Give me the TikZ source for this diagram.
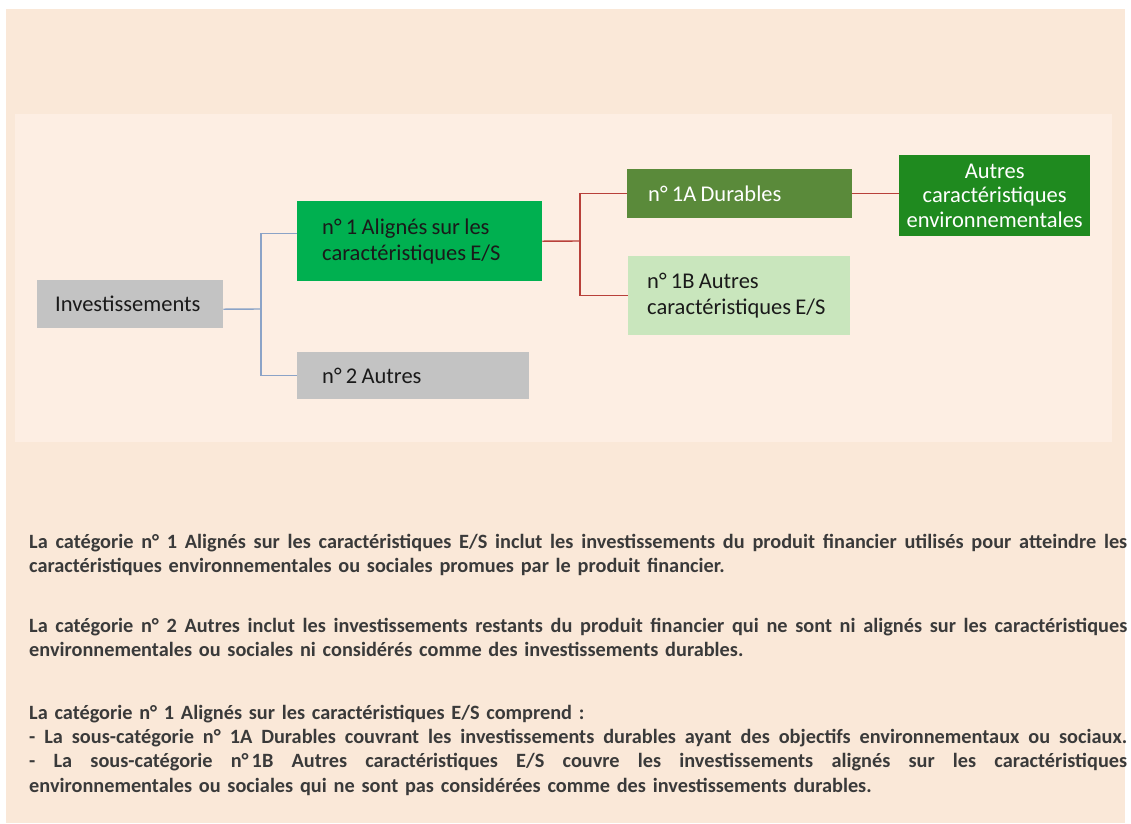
\documentclass[tikz,border=0pt]{standalone}
\usepackage{fontspec}
\setmainfont{Carlito}
% a justified line of the notes: spaces share the free room evenly
\newcommand\fullline[1]{\leavevmode\hbox to 1098pt{\spaceskip=\fontdimen2\font plus 1fil\relax #1}}
% slightly closer word spacing for the box labels
\newcommand\snug{\spaceskip=0.19em plus 0.05em minus 0.02em\relax}
\definecolor{pagebg}{HTML}{FAE8D8}
\definecolor{panelbg}{HTML}{FDEEE3}
\definecolor{boxgray}{HTML}{C3C3C3}
\definecolor{boxgreen}{HTML}{00B050}
\definecolor{boxolive}{HTML}{5A8A3A}
\definecolor{boxforest}{HTML}{1F8A1F}
\definecolor{boxpale}{HTML}{C9E6BD}
\definecolor{linkblue}{HTML}{8BA3C7}
\definecolor{linkred}{HTML}{B8403A}
\definecolor{bodytext}{HTML}{3A3A3A}
\definecolor{boxtext}{HTML}{1A1A1A}

\begin{document}
\begin{tikzpicture}[x=1pt,y=-1pt,
  catbox/.style={rectangle,draw=none,anchor=north west,inner ysep=0pt,
    align=left,text=boxtext,font=\fontsize{22.5}{26}\selectfont},
  bluelink/.style={draw=linkblue,line width=1.4pt},
  redlink/.style={draw=linkred,line width=1.4pt},
  bodyfont/.style={font=\bfseries\fontsize{20.3}{24.3}\selectfont,text=bodytext}]

% page and panels
\fill[white] (0,0) rectangle (1131,823);
\useasboundingbox (0,0) rectangle (1131,823);
\fill[pagebg] (6,9) rectangle (1125,823);
\fill[panelbg] (15,114) rectangle (1112,442);

% category boxes
\node[catbox,fill=boxgray,minimum width=186pt,minimum height=48pt,
  inner xsep=18pt,text width=150pt] (inv) at (37,280) {Investissements};
\node[catbox,fill=boxgreen,minimum width=245pt,minimum height=80pt,
  inner xsep=25pt,text width=195pt] (n1) at (297,201)
  {\snug n° 1 Alignés sur les\\caractéristiques E/S};
\node[catbox,fill=boxgray,minimum width=232pt,minimum height=47pt,
  inner xsep=25pt,text width=182pt] (n2) at (297,352) {\snug n° 2 Autres};
\node[catbox,fill=boxolive,text=white,minimum width=225pt,minimum height=49pt,
  inner xsep=21pt,text width=183pt] (n1a) at (627,169) {\snug n° 1A Durables};
\node[catbox,fill=boxpale,minimum width=222pt,minimum height=79pt,
  inner xsep=19pt,text width=184pt] (n1b) at (628,256)
  {\snug n° 1B Autres\\caractéristiques E/S};
\node[catbox,fill=boxforest,text=white,align=center,
  font=\fontsize{22.5}{24.5}\selectfont,minimum width=191pt,minimum height=81pt,
  inner xsep=4pt,text width=183pt] (env) at (899,155)
  {Autres\\caractéristiques\\environnementales};

% connectors
\coordinate (jb) at (261,309);
\coordinate (jr) at (580,241);
\draw[bluelink] ([yshift=-5pt]inv.east) -- (jb);
\draw[bluelink] ([yshift=8pt]n1.west) -| (jb) |- (n2.west);
\draw[redlink] (n1.east) -- (jr);
\draw[redlink] (n1a.west) -| (jr) |- (n1b.west);
\draw[redlink] (n1a.east) -- (env.west |- n1a.east);

% explanatory text
\node[bodyfont,anchor=base west,inner sep=0pt,text width=1098pt,align=left] (notes) at (29,548)
{\fullline{La catégorie n° 1 Alignés sur les caractéristiques E/S inclut les investissements du produit financier utilisés pour atteindre les}\\
caractéristiques environnementales ou sociales promues par le produit financier.\\[36pt]
\fullline{La catégorie n° 2 Autres inclut les investissements restants du produit financier qui ne sont ni alignés sur les caractéristiques}\\
environnementales ou sociales ni considérés comme des investissements durables.\\[38pt]
La catégorie n° 1 Alignés sur les caractéristiques E/S comprend :\\
\fullline{- La sous-catégorie n° 1A Durables couvrant les investissements durables ayant des objectifs environnementaux ou sociaux.}\\
\fullline{- La sous-catégorie n°\kern0.15em 1B Autres caractéristiques E/S couvre les investissements alignés sur les caractéristiques}\\
environnementales ou sociales qui ne sont pas considérées comme des investissements durables.};
\end{tikzpicture}
\end{document}
